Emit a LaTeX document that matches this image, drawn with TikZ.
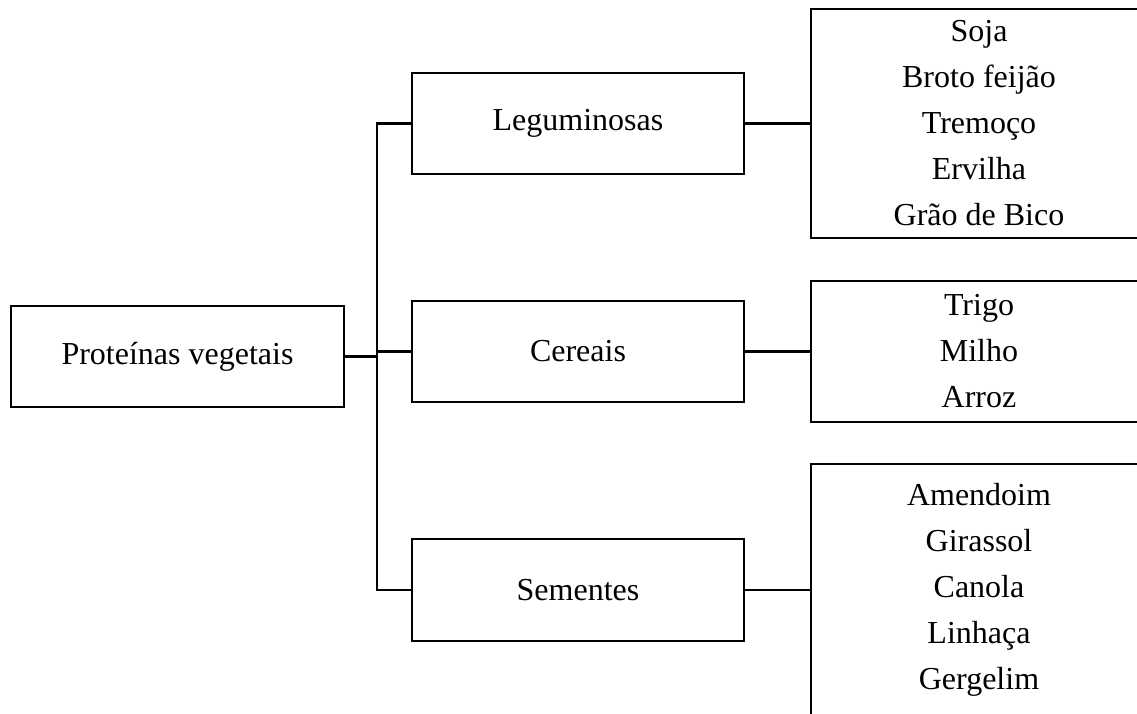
\documentclass[tikz,border=0pt]{standalone}
\usepackage{fontspec}
\setmainfont{Liberation Serif}
\begin{document}
\begin{tikzpicture}[x=0.75pt,y=-0.75pt,
  box/.style={draw,line width=1.6pt,inner sep=0pt,align=center,
    font=\fontsize{24}{34.5}\selectfont},
  conn/.style={line width=1.6pt}]
\useasboundingbox (0,0) rectangle (1137,713);
\node[box,minimum width=333*0.75pt,minimum height=101*0.75pt] (root) at (177.5,356.5) {Proteínas vegetais};
\node[box,minimum width=332*0.75pt,minimum height=101*0.75pt] (leg) at (578,123.5) {Leguminosas};
\node[box,minimum width=332*0.75pt,minimum height=101*0.75pt] (cer) at (578,351.5) {Cereais};
\node[box,minimum width=332*0.75pt,minimum height=102*0.75pt] (sem) at (578,590) {Sementes};
\node[box,minimum width=336*0.75pt,minimum height=229*0.75pt] (r1) at (979,123.5) {Soja\\Broto feijão\\Tremoço\\Ervilha\\Grão de Bico};
\node[box,minimum width=336*0.75pt,minimum height=141*0.75pt] (r2) at (979,351.5) {Trigo\\Milho\\Arroz};
\node[box,minimum width=336*0.75pt,minimum height=252*0.75pt] (r3) at (979,590) {Amendoim\\Girassol\\Canola\\Linhaça\\Gergelim};
\coordinate (tr) at (377,357);
\draw[conn] (root.east) -- (root.east -| tr);
\draw[conn] (leg.west) -| (tr) |- (sem.west);
\draw[conn] (cer.west) -- (cer.west -| tr);
\draw[conn] (leg.east) -- (r1.west);
\draw[conn] (cer.east) -- (r2.west);
\draw[conn] (sem.east) -- (r3.west);
\end{tikzpicture}
\end{document}
